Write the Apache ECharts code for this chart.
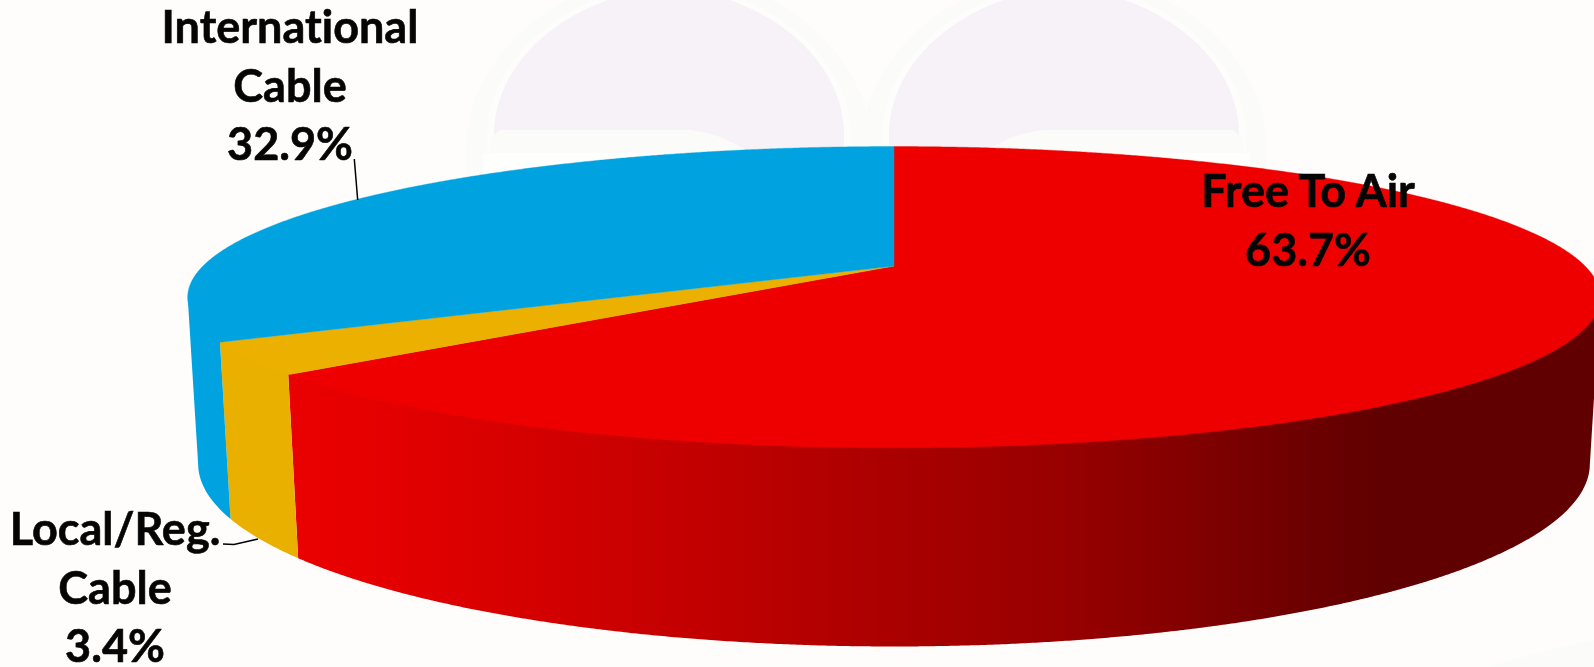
<!DOCTYPE html>
<html>
<head>
<meta charset="utf-8">
<title>Viewing share by platform</title>
<style>
html,body{margin:0;padding:0;background:#fefdfc;overflow:hidden}
#chart{width:1594px;height:667px}
</style>
<script src="https://cdn.jsdelivr.net/npm/echarts@6/dist/echarts.min.js"></script>
</head>
<body>
<div id="chart"></div>
<script>
// Chart values
const categories = ['Free To Air', 'Local/Reg. Cable', 'International Cable'];
const shares = [63.7, 3.4, 32.9];
const labelLines = [['Free To Air'], ['Local/Reg.', 'Cable'], ['International', 'Cable']];
const sliceColors = ['#ee0000', '#ebb000', '#00a3e0'];

// Perspective disc: unit circle (u, v) at depth z = 0 (rim top) or 1 (rim bottom)
const disc = {cx: 894, cy: 266, rx: 691, ry: 144.2, tilt: 0.207, drop: 163, shrink: 0.0144};
const TAU = Math.PI * 2;
const total = shares.reduce((a, b) => a + b, 0);

function project(theta, z) {
  const u = Math.sin(theta), v = Math.cos(theta);
  const w = 1 + disc.tilt * v + disc.shrink * z;
  return [disc.cx + disc.rx * u / w, disc.cy + (-disc.ry * v + disc.drop * z) / w];
}
function sweep(a0, a1, z) {
  const pts = [];
  const n = Math.max(2, Math.ceil((a1 - a0) / 0.004));
  for (let i = 0; i <= n; i++) pts.push(project(a0 + (a1 - a0) * i / n, z));
  return pts;
}
function sliceAngles(i) {
  let before = 0;
  for (let k = 0; k < i; k++) before += shares[k];
  return [before / total * TAU, (before + shares[i]) / total * TAU];
}

// Rim section that faces the viewer lies between the two silhouette angles
const silhouette = Math.acos(-disc.tilt);
const wallFill = [
  {type: 'linear', global: true, x: 290, y: 0, x2: 1400, y2: 0, colorStops: [
    {offset: 0, color: '#ea0000'},
    {offset: 0.072, color: '#e60000'},
    {offset: 0.29, color: '#cc0000'},
    {offset: 0.4225, color: '#bb0000'},
    {offset: 0.56, color: '#a80000'},
    {offset: 0.698, color: '#980000'},
    {offset: 0.836, color: '#7d0000'},
    {offset: 0.905, color: '#6f0000'},
    {offset: 0.974, color: '#620000'},
    {offset: 1, color: '#600000'}
  ]},
  '#eab000',
  '#00a2df'
];

function renderWall(params) {
  const i = params.dataIndex;
  const [a0, a1] = sliceAngles(i);
  const from = Math.max(a0, silhouette), to = Math.min(a1, TAU - silhouette);
  if (to <= from) return {type: 'group', children: []};
  // the upper edge runs slightly under the top face so no seam shows along the rim
  const pts = sweep(from, to, -0.02).concat(sweep(from, to, 1).reverse());
  return {type: 'polygon', shape: {points: pts}, style: {fill: wallFill[i]}};
}
function renderTop(params) {
  const i = params.dataIndex;
  const [a0, a1] = sliceAngles(i);
  const pts = [[disc.cx, disc.cy]].concat(sweep(a0, a1, 0));
  return {type: 'polygon', shape: {points: pts}, style: {fill: sliceColors[i], stroke: sliceColors[i], lineWidth: 0.4}};
}

// Label placement: horizontal centre and baseline of the first line
const labelFont = {size: 45, family: 'Lato, "Open Sans", sans-serif', lineGap: 58.5, baselineDrop: 9};
const labelSpots = [{x: 1308, y: 206}, {x: 115, y: 544}, {x: 290, y: 42}];
const leaders = [
  null,
  [[223, 544], [234, 544.5], [258, 539]],
  [[354.3, 159], [357.7, 200]]
];

function renderLabel(params, api) {
  const i = params.dataIndex;
  const lines = labelLines[i].concat([api.value(0).toFixed(1) + '%']);
  const children = lines.map((text, k) => ({
    type: 'text',
    style: {
      text,
      x: labelSpots[i].x,
      y: labelSpots[i].y + k * labelFont.lineGap + labelFont.baselineDrop,
      align: 'center',
      verticalAlign: 'bottom',
      fill: '#050505',
      stroke: '#050505',
      lineWidth: 0.6,
      font: 'bold ' + labelFont.size + 'px ' + labelFont.family
    }
  }));
  if (leaders[i]) {
    children.push({
      type: 'polyline',
      shape: {points: leaders[i]},
      style: {stroke: '#000', lineWidth: 1.5, fill: null}
    });
  }
  return {type: 'group', children};
}

// Pale double-arch emblem sitting behind the pie
function archPoints(cx, base, halfWidth, height, floor) {
  const left = [], right = [];
  for (let i = 0; i <= 80; i++) {
    const t = i / 80;
    const w = halfWidth * Math.pow(1 - t * t, 0.55);
    left.push([cx - w, base - height * t]);
    right.unshift([cx + w, base - height * t]);
  }
  return [[cx - halfWidth, floor]].concat(left, right, [[cx + halfWidth, floor]]);
}
const emblem = [];
[[669, 1], [1064, -1]].forEach(([cx, side]) => {
  const at = (pts) => pts.map(([dx, y]) => [cx + side * dx, y]);
  emblem.push({type: 'polygon', shape: {points: archPoints(cx, 150, 203, 178, 220)}, style: {fill: '#fbfcf9'}});
  emblem.push({type: 'polygon', shape: {points: archPoints(cx, 137, 182, 153, 220)}, style: {fill: '#fdfdfc'}});
  emblem.push({type: 'polygon', shape: {points: archPoints(cx, 135, 175, 146, 220)}, style: {fill: '#f6f2f8'}});
  // flat band closing the foot of each arch, curving away towards the middle
  emblem.push({type: 'polygon', shape: {points: at([
    [-178, 138], [-169, 130], [21, 130], [38, 133], [54, 138], [74, 148],
    [96, 165], [96, 220], [-186, 220]
  ])}, style: {fill: '#fbfcf9'}});
  emblem.push({type: 'polygon', shape: {points: at([
    [-186, 153], [96, 153], [96, 220], [-186, 220]
  ])}, style: {fill: '#fefefd'}});
});
// Faint smudge in the lower right corner of the slide
emblem.push({type: 'polygon', shape: {points: [
  [1487, 667], [1530, 655], [1563, 647], [1594, 640], [1594, 667]
]}, style: {fill: '#fbfbfa'}});

const seriesData = shares.map((v, i) => ({name: categories[i], value: [v]}));
const option = {
  animation: false,
  backgroundColor: '#fefdfc',
  graphic: {elements: emblem},
  series: [
    {type: 'custom', coordinateSystem: 'none', silent: true, z: 2, renderItem: renderWall, data: seriesData},
    {type: 'custom', coordinateSystem: 'none', silent: true, z: 3, renderItem: renderTop, data: seriesData},
    {type: 'custom', coordinateSystem: 'none', silent: true, z: 4, renderItem: renderLabel, data: seriesData}
  ]
};
const chart = echarts.init(document.getElementById('chart'), null, {renderer: 'canvas'});
chart.setOption(option);
chart.getZr().flush();
// Plain letterforms without the "ti" ligature, kerning kept on; needs the canvas to exist, so paint again afterwards
const textContext = chart.getDom().querySelector('canvas').getContext('2d');
textContext.textRendering = 'optimizeSpeed';
textContext.fontKerning = 'normal';
chart.clear();
chart.setOption(option);
</script>
</body>
</html>
